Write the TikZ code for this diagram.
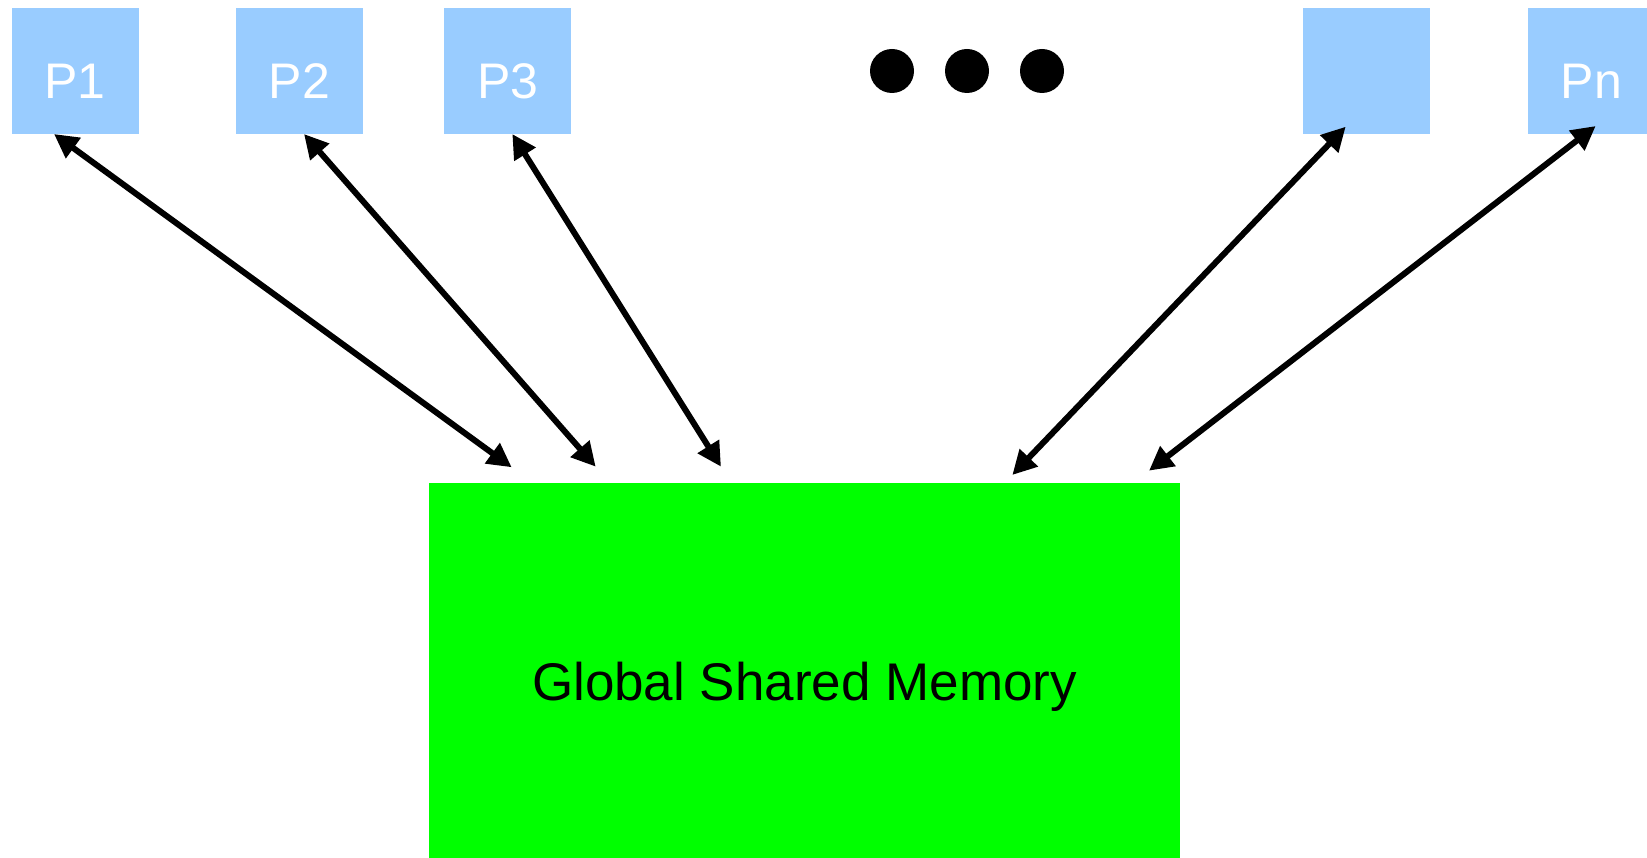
\documentclass[tikz,border=0pt]{standalone}
\usepackage{fontspec}
\setmainfont{Liberation Sans}
\usetikzlibrary{arrows.meta,calc}
\definecolor{procblue}{HTML}{99CCFF}
\definecolor{memgreen}{HTML}{00FF00}
\begin{document}
\begin{tikzpicture}[x=1pt,y=-1pt,
  proc/.style={fill=procblue, draw=none, minimum width=127pt, minimum height=126pt,
               inner sep=0pt, outer sep=0pt, anchor=north west},
  plabel/.style={text=white, font=\fontsize{50}{50}\selectfont, anchor=base, inner sep=0pt},
  memory/.style={fill=memgreen, draw=none, minimum width=751pt, minimum height=375pt,
                 inner sep=0pt, outer sep=0pt, anchor=north west},
  memlabel/.style={text=black, font=\fontsize{53}{53}\selectfont, anchor=base, inner sep=0pt},
  ellipsisdot/.style={circle, fill=black, draw=none, minimum size=44pt, inner sep=0pt},
  link/.style={line width=6pt,
               {Triangle[length=24pt,width=24pt]}-{Triangle[length=24pt,width=24pt]}}]
\useasboundingbox (0,0) rectangle (1647,858);
\clip (0,0) rectangle (1647,858);

% processors
\node[proc] (p1) at (11.5,8) {};
\node[proc] (p2) at (236,8) {};
\node[proc] (p3) at (444.3,8) {};
\node[proc] (p4) at (1303,8) {};
\node[proc] (pn) at (1528,8) {};
\node[plabel] (l1) at ($(p1.center)+(0,28)$) {P1};
\node[plabel] (l2) at ($(p2.center)+(0,28)$) {P2};
\node[plabel] (l3) at ($(p3.center)+(0,28)$) {P3};
\node[plabel] (ln) at ($(pn.center)+(0,28)$) {Pn};

% ellipsis
\node[ellipsisdot] (d1) at (892,71) {};
\node[ellipsisdot] (d2) at (967,71) {};
\node[ellipsisdot] (d3) at (1042,71) {};

% shared memory
\node[memory] (mem) at (429,483) {};
\node[memlabel] (ml) at ($(mem.center)+(0,30)$) {Global Shared Memory};

% links between processors and memory
\draw[link] ($(p1.south west)+(42.5,0)$) -- ($(mem.north west)+(82.7,-15.7)$);
\draw[link] ($(p2.south west)+(68,0)$) -- ($(mem.north west)+(166.7,-16.3)$);
\draw[link] ($(p3.south west)+(68,0)$) -- ($(mem.north west)+(292,-16.3)$);
\draw[link] ($(p4.south west)+(42.7,-7.3)$) -- ($(mem.north west)+(583.3,-8)$);
\draw[link] ($(pn.south west)+(67.7,-8)$) -- ($(mem.north west)+(720,-12.3)$);
\end{tikzpicture}
\end{document}
